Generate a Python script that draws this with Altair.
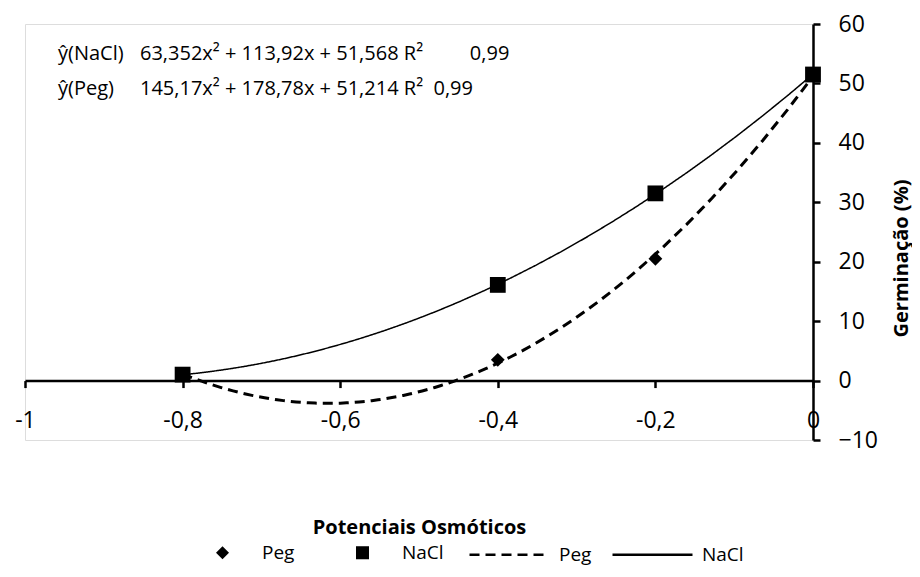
import altair as alt
import pandas as pd

# ---- data ----
x_vals = [-0.8, -0.4, -0.2, 0.0]
peg_vals = [1.0, 3.5, 20.5, 51.5]
nacl_vals = [1.0, 16.1, 31.5, 51.5]
series_names = ["Peg", "NaCl"]
x_ticks = [-1, -0.8, -0.6, -0.4, -0.2, 0]
y_ticks = [-10, 0, 10, 20, 30, 40, 50, 60]
eq_names = ["ŷ(NaCl)", "ŷ(Peg)"]
eq_bodies = [
    "63,352x² + 113,92x + 51,568 R²\u00a0\u00a0\u00a0\u00a0\u00a0\u00a0\u00a0\u00a0 0,99",
    "145,17x² + 178,78x + 51,214 R²\u00a0 0,99",
]
x_title = "Potenciais Osmóticos"
y_title = "Germinação (%)"

# ---- layout / style ----
W, H = 788, 416
Y_MIN, Y_MAX = -10, 60
FONT = "Open Sans"
PAD = {"left": 17, "top": 16, "right": 99, "bottom": 127}
x_axis_offset = -H * (0 - Y_MIN) / (Y_MAX - Y_MIN)

df = pd.DataFrame({
    "x": x_vals * 2,
    "y": peg_vals + nacl_vals,
    "series": ["Peg"] * len(x_vals) + ["NaCl"] * len(x_vals),
})

x_scale = alt.Scale(domain=[-1, 0], nice=False, zero=False)
y_scale = alt.Scale(domain=[Y_MIN, Y_MAX], nice=False, zero=False)

x_axis = alt.Axis(
    orient="bottom", offset=x_axis_offset, values=x_ticks, grid=False,
    domainColor="black", domainWidth=2.5, tickColor="black", tickWidth=2.5, tickSize=7,
    labelFont=FONT, labelFontSize=23, labelColor="black", labelPadding=22,
    labelExpr="replace(toString(datum.value), '.', ',')", labelFlush=False,
    title=x_title, titleFont=FONT, titleFontSize=20, titleFontWeight="bold",
    titleColor="black", titleY=147, titleBaseline="middle",
)
y_axis = alt.Axis(
    orient="right", values=y_ticks, grid=False,
    domainColor="black", domainWidth=2.5, tickColor="black", tickWidth=2.5, tickSize=7,
    labelFont=FONT, labelFontSize=23, labelColor="black", labelPadding=18,
    labelAlign="left", labelBaseline="middle",
    title=y_title, titleFont=FONT, titleFontSize=20, titleFontWeight="bold",
    titleColor="black", titleAngle=270, titleX=88, titleY=234,
    titleAlign="center", titleBaseline="middle",
)

base = alt.Chart(df)

lines = base.transform_regression(
    "x", "y", method="poly", order=2, groupby=["series"], extent=[-0.8, 0]
).mark_line(color="black").encode(
    x=alt.X("x:Q", scale=x_scale, axis=x_axis),
    y=alt.Y("y:Q", scale=y_scale, axis=y_axis),
    strokeDash=alt.StrokeDash(
        "series:N",
        scale=alt.Scale(domain=series_names, range=[[10, 6], [1, 0]]),
        legend=alt.Legend(
            title=None, orient="none", legendX=443, legendY=489, direction="horizontal",
            symbolType="stroke", symbolSize=6400, symbolStrokeWidth=2.5,
            symbolStrokeColor="black", labelFont=FONT, labelFontSize=19,
            labelColor="black", labelOffset=8, columnPadding=15, padding=0,
        ),
    ),
    strokeWidth=alt.StrokeWidth(
        "series:N", scale=alt.Scale(domain=series_names, range=[3, 1.5]), legend=None
    ),
)

points = base.mark_point(filled=True, color="black", opacity=1).encode(
    x=alt.X("x:Q", scale=x_scale),
    y=alt.Y("y:Q", scale=y_scale),
    shape=alt.Shape(
        "series:N",
        scale=alt.Scale(domain=series_names, range=["diamond", "square"]),
        legend=alt.Legend(
            title=None, orient="none", legendX=188, legendY=519, direction="horizontal",
            symbolSize=170, symbolFillColor="black", symbolStrokeColor="black",
            labelFont=FONT, labelFontSize=19, labelColor="black",
            labelOffset=30, columnPadding=57, padding=0,
        ),
    ),
    size=alt.Size(
        "series:N", scale=alt.Scale(domain=series_names, range=[190, 250]), legend=None
    ),
)

eq_df = pd.DataFrame({
    "names": ["\n".join(eq_names)],
    "bodies": ["\n".join(eq_bodies)],
})
eq_base = alt.Chart(eq_df)
eq_style = dict(align="left", baseline="top", font=FONT, fontSize=20, color="black",
                lineBreak="\n", lineHeight=35)
names_txt = eq_base.mark_text(**eq_style).encode(text="names:N", x=alt.value(33), y=alt.value(20))
bodies_txt = eq_base.mark_text(**eq_style).encode(text="bodies:N", x=alt.value(115), y=alt.value(20))

chart = alt.layer(lines, points, names_txt, bodies_txt).resolve_legend(
    shape="independent", strokeDash="independent"
).properties(
    width=W, height=H,
    autosize=alt.AutoSizeParams(type="none"),
    padding=PAD,
).configure_view(stroke=None).configure(background="white")

chart.save("out.html", embed_options={"renderer": "svg", "actions": False})
